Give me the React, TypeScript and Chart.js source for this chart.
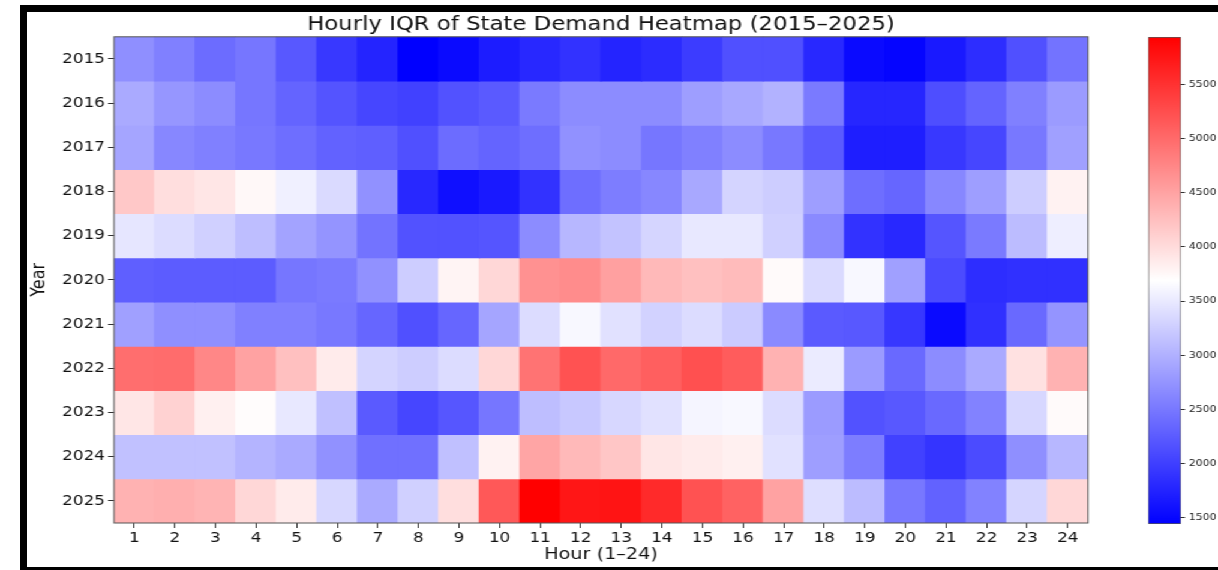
import React, { useEffect, useRef } from 'react';
import { Chart, registerables } from 'chart.js';

Chart.register(...registerables);

const years = ['2015', '2016', '2017', '2018', '2019', '2020', '2021', '2022', '2023', '2024', '2025'];
const hours = ['1', '2', '3', '4', '5', '6', '7', '8', '9', '10', '11', '12', '13', '14', '15', '16', '17', '18', '19', '20', '21', '22', '23', '24'];

const iqr2015 = [2701, 2569, 2393, 2481, 2216, 1934, 1758, 1440, 1528, 1687, 1793, 1881, 1758, 1828, 1969, 2146, 2146, 1793, 1528, 1484, 1660, 1837, 2146, 2454];
const iqr2016 = [2939, 2763, 2675, 2481, 2322, 2181, 2057, 2013, 2163, 2234, 2516, 2675, 2675, 2675, 2834, 2922, 3010, 2516, 1775, 1775, 2128, 2322, 2569, 2807];
const iqr2017 = [2895, 2631, 2569, 2498, 2410, 2304, 2278, 2146, 2393, 2322, 2410, 2719, 2675, 2481, 2569, 2675, 2498, 2234, 1705, 1705, 1934, 2057, 2498, 2851];
const iqr2018 = [4176, 3982, 3911, 3753, 3557, 3363, 2719, 1793, 1572, 1660, 1881, 2410, 2543, 2631, 2922, 3310, 3248, 2834, 2410, 2340, 2631, 2834, 3248, 3806];
const iqr2019 = [3469, 3380, 3275, 3116, 2878, 2745, 2454, 2163, 2163, 2190, 2675, 3054, 3160, 3319, 3486, 3486, 3275, 2657, 1881, 1793, 2190, 2516, 3098, 3539];
const iqr2020 = [2278, 2251, 2251, 2251, 2481, 2516, 2719, 3248, 3788, 4044, 4661, 4705, 4529, 4308, 4247, 4291, 3735, 3363, 3627, 2851, 2102, 1837, 1863, 1863];
const iqr2021 = [2851, 2701, 2701, 2569, 2569, 2498, 2340, 2146, 2340, 2895, 3380, 3627, 3424, 3292, 3380, 3230, 2657, 2234, 2216, 1925, 1528, 1863, 2366, 2745];
const iqr2022 = [4970, 4987, 4749, 4511, 4247, 3867, 3310, 3248, 3380, 4044, 4926, 5217, 5014, 5102, 5234, 5129, 4370, 3513, 2807, 2366, 2675, 2939, 3956, 4370];
const iqr2023 = [3911, 4088, 3823, 3718, 3486, 3133, 2234, 2057, 2199, 2481, 3116, 3204, 3336, 3424, 3601, 3627, 3380, 2807, 2163, 2216, 2366, 2587, 3336, 3735];
const iqr2024 = [3142, 3142, 3142, 3028, 2939, 2719, 2428, 2428, 3133, 3806, 4485, 4308, 4194, 3911, 3867, 3823, 3424, 2834, 2543, 2013, 1899, 2102, 2701, 3054];
const iqr2025 = [4370, 4397, 4352, 4044, 3867, 3336, 2939, 3275, 3982, 5164, 5940, 5746, 5764, 5570, 5217, 5076, 4511, 3398, 3098, 2498, 2304, 2587, 3319, 4044];

const rows = [iqr2015, iqr2016, iqr2017, iqr2018, iqr2019, iqr2020, iqr2021, iqr2022, iqr2023, iqr2024, iqr2025];
const colorbarTicks = [1500, 2000, 2500, 3000, 3500, 4000, 4500, 5000, 5500];

const allValues = rows.flat();
const vmin = Math.min(...allValues);
const vmax = Math.max(...allValues);

function bwr(v: number): string {
  const t = Math.max(0, Math.min(1, (v - vmin) / (vmax - vmin)));
  let r: number, g: number, b: number;
  if (t < 0.5) {
    r = 2 * t; g = 2 * t; b = 1;
  } else {
    r = 1; g = 2 * (1 - t); b = 2 * (1 - t);
  }
  return `rgb(${Math.round(r * 255)},${Math.round(g * 255)},${Math.round(b * 255)})`;
}

const FONT = 'DejaVu Sans';
// the figure is drawn at a narrower width and stretched horizontally
const STRETCH = 1.2;
const INNER_W = 1015;

const frameRectPlugin = {
  id: 'frameRect',
  afterDatasetsDraw(chart: any) {
    const { ctx, chartArea } = chart;
    if (!chartArea) return;
    ctx.save();
    ctx.strokeStyle = '#555';
    ctx.lineWidth = 1;
    ctx.strokeRect(chartArea.left, chartArea.top, chartArea.right - chartArea.left, chartArea.bottom - chartArea.top);
    ctx.restore();
  },
};

export default function App() {
  const mainRef = useRef<HTMLCanvasElement | null>(null);
  const cbRef = useRef<HTMLCanvasElement | null>(null);

  useEffect(() => {
    document.body.style.margin = '0';
    if (!mainRef.current || !cbRef.current) return;

    const main = new Chart(mainRef.current, {
      type: 'bar',
      data: {
        labels: hours,
        datasets: years.map((y, i) => ({
          label: y,
          data: hours.map(() => [i, i + 1]),
          backgroundColor: rows[i].map(bwr),
          borderWidth: 0,
          barPercentage: 1,
          categoryPercentage: 1,
          grouped: false,
          inflateAmount: 0.5,
        })),
      } as any,
      options: {
        animation: false,
        responsive: false,
        maintainAspectRatio: false,
        layout: { padding: { left: 0, right: 13.3, top: 0, bottom: 0 } },
        plugins: {
          legend: { display: false },
          tooltip: { enabled: false },
          title: {
            display: true,
            text: 'Hourly IQR of State Demand Heatmap (2015–2025)',
            color: '#111',
            font: { family: FONT, size: 19, weight: 'normal' },
            padding: { top: 14, bottom: 0 },
          },
        },
        scales: {
          x: {
            type: 'category',
            offset: true,
            grid: { display: true, offset: false, drawOnChartArea: false, drawTicks: true, tickLength: 5, tickColor: '#333' },
            border: { display: false },
            ticks: { color: '#111', font: { family: FONT, size: 14 }, padding: 2, maxRotation: 0, autoSkip: false },
            title: { display: true, text: 'Hour (1–24)', color: '#111', font: { family: FONT, size: 16 }, padding: { top: 0, bottom: 6 } },
            afterFit: (s: any) => { s.height = 47; },
          },
          y: {
            type: 'linear',
            reverse: true,
            min: 0,
            max: years.length,
            afterBuildTicks: (s: any) => { s.ticks = years.map((_, i) => ({ value: i + 0.5 })); },
            grid: { display: true, drawOnChartArea: false, drawTicks: true, tickLength: 5, tickColor: '#333' },
            border: { display: false },
            ticks: {
              color: '#111',
              font: { family: FONT, size: 14 },
              padding: 2.5,
              autoSkip: false,
              callback: (v: any) => years[Math.floor(Number(v))],
            },
            title: { display: true, text: 'Year', color: '#111', font: { family: FONT, size: 16 }, padding: { top: 23.7, bottom: 0 } },
            afterFit: (s: any) => { s.width = 95; },
          },
          y2: {
            type: 'linear',
            position: 'right',
            display: true,
            ticks: { display: false },
            grid: { display: false },
            border: { display: false },
            afterFit: (s: any) => { s.width = 95; },
          },
        },
      } as any,
      plugins: [frameRectPlugin],
    });

    const cb = new Chart(cbRef.current, {
      type: 'bar',
      data: {
        labels: [''],
        datasets: [{
          data: [[vmin, vmax]],
          backgroundColor: (c: any) => {
            const chart = c.chart;
            if (!chart.chartArea) return 'white';
            const ys = chart.scales.y;
            const g = chart.ctx.createLinearGradient(0, ys.getPixelForValue(vmin), 0, ys.getPixelForValue(vmax));
            g.addColorStop(0, bwr(vmin));
            g.addColorStop(0.5, bwr((vmin + vmax) / 2));
            g.addColorStop(1, bwr(vmax));
            return g;
          },
          borderColor: '#555',
          borderWidth: 1,
          borderSkipped: false,
          barPercentage: 1,
          categoryPercentage: 1,
        }],
      } as any,
      options: {
        animation: false,
        responsive: false,
        maintainAspectRatio: false,
        layout: { padding: { left: 16.7, right: 0, top: 37, bottom: 46 } },
        plugins: { legend: { display: false }, tooltip: { enabled: false } },
        scales: {
          x: { display: false },
          y: {
            type: 'linear',
            position: 'right',
            min: vmin,
            max: vmax,
            afterBuildTicks: (s: any) => { s.ticks = colorbarTicks.map((v) => ({ value: v })); },
            grid: { display: true, drawOnChartArea: false, drawTicks: true, tickLength: 3.3, tickColor: '#333' },
            border: { display: false },
            ticks: { color: '#222', font: { family: FONT, size: 9 }, padding: 3.3, autoSkip: false, callback: (v: any) => String(v) },
            afterFit: (s: any) => { s.width = 30.8; },
          },
        },
      } as any,
    });

    return () => {
      main.destroy();
      cb.destroy();
    };
  }, []);

  return (
    <div style={{ position: 'relative', width: 1218, height: 570, overflow: 'hidden', background: '#fff' }}>
      <div
        style={{
          position: 'absolute',
          left: 20,
          top: 5,
          width: 1300,
          height: 569,
          boxSizing: 'border-box',
          border: '7px solid #000',
        }}
      />
      <div
        style={{
          position: 'absolute',
          left: 0,
          top: 0,
          width: INNER_W,
          height: 570,
          transform: `scaleX(${STRETCH})`,
          transformOrigin: '0 0',
        }}
      >
        <canvas ref={mainRef} width={INNER_W} height={570} style={{ position: 'absolute', left: 0, top: 0, width: INNER_W, height: 570 }} />
        <canvas ref={cbRef} width={75} height={570} style={{ position: 'absolute', left: 940, top: 0, width: 75, height: 570 }} />
      </div>
    </div>
  );
}
